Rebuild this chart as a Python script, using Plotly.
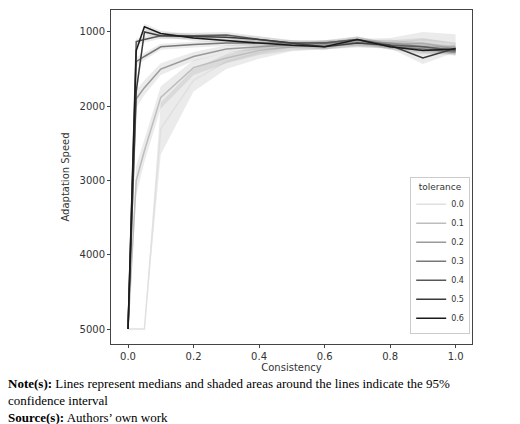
import plotly.graph_objects as go

consistency = [0.0, 0.025, 0.05, 0.1, 0.2, 0.3, 0.4, 0.5, 0.6, 0.7, 0.8, 0.9, 1.0]
tolerances = ["0.0", "0.1", "0.2", "0.3", "0.4", "0.5", "0.6"]

# medians per tolerance
medians = [
    [5000, 5000, 5000, 2300, 1650, 1400, 1280, 1200, 1180, 1150, 1150, 1100, 1150],
    [5000, 3000, 2600, 1880, 1480, 1350, 1250, 1200, 1180, 1150, 1170, 1150, 1230],
    [5000, 1900, 1750, 1500, 1330, 1230, 1200, 1180, 1150, 1150, 1150, 1200, 1250],
    [5000, 1400, 1330, 1200, 1170, 1150, 1150, 1150, 1150, 1100, 1200, 1230, 1270],
    [5000, 1130, 1100, 1050, 1050, 1040, 1100, 1150, 1150, 1100, 1180, 1200, 1250],
    [5000, 1800, 1000, 1050, 1060, 1070, 1100, 1150, 1200, 1150, 1180, 1350, 1220],
    [5000, 1250, 930, 1020, 1080, 1120, 1150, 1180, 1200, 1100, 1200, 1250, 1230],
]
# half width of the 95% interval
ci_half = [
    [0, 0, 0, 350, 150, 100, 80, 60, 60, 60, 70, 100, 120],
    [0, 200, 150, 150, 100, 70, 60, 50, 50, 50, 60, 70, 80],
    [0, 120, 100, 80, 60, 50, 40, 40, 40, 40, 50, 60, 60],
    [0, 60, 50, 40, 40, 40, 40, 40, 40, 40, 40, 50, 50],
    [0, 40, 40, 40, 40, 40, 40, 40, 40, 40, 40, 50, 50],
    [0, 100, 40, 40, 40, 40, 40, 40, 40, 40, 40, 80, 50],
    [0, 60, 40, 40, 40, 40, 40, 40, 40, 40, 40, 50, 50],
]
line_colors = ["#e0e0e0", "#bdbdbd", "#9a9a9a", "#787878", "#575757", "#393939", "#1a1a1a"]

fig = go.Figure()
for name, med, ci, col in zip(tolerances, medians, ci_half, line_colors):
    hi = [m + c for m, c in zip(med, ci)]
    lo = [m - c for m, c in zip(med, ci)]
    fig.add_trace(go.Scatter(x=consistency + consistency[::-1], y=hi + lo[::-1],
                             fill="toself", fillcolor="rgba(120,120,120,0.15)",
                             line=dict(width=0), showlegend=False, hoverinfo="skip"))
    fig.add_trace(go.Scatter(x=consistency, y=med, mode="lines", name=name,
                             line=dict(color=col, width=1.5)))

axis_common = dict(showgrid=False, zeroline=False, showline=True, mirror=True,
                   linecolor="#444", linewidth=1, ticks="outside", ticklen=3,
                   tickcolor="#444", tickfont=dict(size=10, color="#333"))
fig.update_xaxes(range=[-0.052, 1.05], tickvals=[0, 0.2, 0.4, 0.6, 0.8, 1.0],
                 tickformat=".1f", title=dict(text="Consistency", font=dict(size=10, color="#333"), standoff=2),
                 **axis_common)
fig.update_yaxes(range=[5202, 704], tickvals=[1000, 2000, 3000, 4000, 5000],
                 title=dict(text="Adaptation Speed", font=dict(size=10, color="#333"), standoff=8),
                 **axis_common)

fig.update_layout(
    width=520, height=424, plot_bgcolor="white", paper_bgcolor="white",
    margin=dict(l=103, r=56, t=2, b=88),
    font=dict(family="DejaVu Sans"),
    legend=dict(title=dict(text="tolerance", side="top center", font=dict(size=9)), x=0.995, y=0.03,
                xanchor="right", yanchor="bottom", bordercolor="#ccc", borderwidth=1,
                font=dict(size=8, color="#333"), tracegroupgap=0, itemwidth=30),
    annotations=[
        dict(xref="paper", yref="paper", x=-0.29, y=-0.09, xanchor="left", yanchor="top", align="left",
             showarrow=False, font=dict(family="Liberation Serif", size=13, color="black"),
             text="<b>Note(s):</b> Lines represent medians and shaded areas around the lines indicate the 95%<br>"
                  "confidence interval<br><b>Source(s):</b> Authors’ own work"),
    ],
)

fig.write_html("out.html")
